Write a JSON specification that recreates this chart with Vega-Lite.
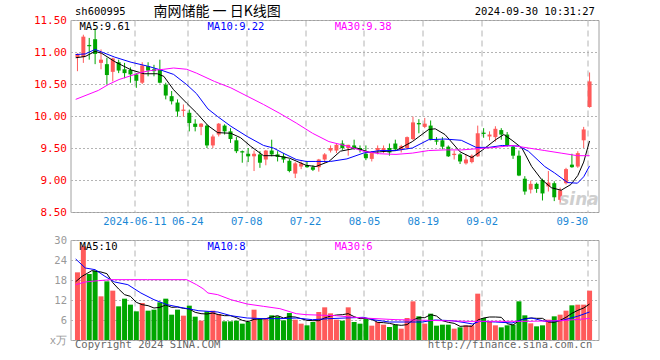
{
  "$schema": "https://vega.github.io/schema/vega-lite/v6.json",
  "autosize": {"type": "none"},
  "padding": {"left": 70.5, "top": 20, "right": 61.5, "bottom": 340},
  "background": "white",
  "bounds": "flush",
  "spacing": 28,
  "resolve": {"scale": {"x": "independent", "y": "independent"}},
  "config": {
    "view": {"stroke": "#a0a0a0", "strokeWidth": 1},
    "axis": {"gridColor": "#b4b4b4", "gridWidth": 1, "domain": false, "ticks": false, "labelFont": "DejaVu Sans Mono", "labelFontSize": 10.5, "labelOverlap": false}
  },
  "datasets": {
    "one": [{}],
    "k": [
      {"i":0,"o":10.92,"h":10.98,"l":10.70,"c":10.97,"v":20.3},
      {"i":1,"o":10.92,"h":11.27,"l":10.83,"c":11.24,"v":28.1},
      {"i":2,"o":11.11,"h":11.22,"l":10.88,"c":11.09,"v":19.8},
      {"i":3,"o":11.20,"h":11.37,"l":10.81,"c":10.97,"v":20.8},
      {"i":4,"o":10.83,"h":11.04,"l":10.73,"c":10.88,"v":13.1},
      {"i":5,"o":10.81,"h":10.91,"l":10.49,"c":10.64,"v":17.6},
      {"i":6,"o":10.69,"h":10.91,"l":10.54,"c":10.90,"v":14.8},
      {"i":7,"o":10.84,"h":10.88,"l":10.67,"c":10.71,"v":10.1},
      {"i":8,"o":10.73,"h":10.83,"l":10.59,"c":10.67,"v":12.4},
      {"i":9,"o":10.72,"h":10.76,"l":10.52,"c":10.65,"v":10.6},
      {"i":10,"o":10.65,"h":10.67,"l":10.44,"c":10.55,"v":8.6},
      {"i":11,"o":10.52,"h":10.84,"l":10.50,"c":10.79,"v":11.1},
      {"i":12,"o":10.78,"h":10.84,"l":10.62,"c":10.71,"v":8.8},
      {"i":13,"o":10.73,"h":10.80,"l":10.62,"c":10.70,"v":9.1},
      {"i":14,"o":10.72,"h":10.88,"l":10.51,"c":10.52,"v":11.3},
      {"i":15,"o":10.49,"h":10.52,"l":10.26,"c":10.32,"v":12.4},
      {"i":16,"o":10.31,"h":10.39,"l":10.18,"c":10.23,"v":7.6},
      {"i":17,"o":10.21,"h":10.26,"l":9.99,"c":10.07,"v":9.1},
      {"i":18,"o":10.08,"h":10.18,"l":9.99,"c":10.10,"v":7.3},
      {"i":19,"o":10.05,"h":10.10,"l":9.76,"c":9.89,"v":10.3},
      {"i":20,"o":9.88,"h":9.95,"l":9.76,"c":9.83,"v":7.0},
      {"i":21,"o":9.83,"h":9.89,"l":9.70,"c":9.88,"v":5.8},
      {"i":22,"o":9.85,"h":9.87,"l":9.50,"c":9.54,"v":8.6},
      {"i":23,"o":9.54,"h":9.71,"l":9.50,"c":9.68,"v":8.8},
      {"i":24,"o":9.71,"h":9.89,"l":9.68,"c":9.88,"v":7.8},
      {"i":25,"o":9.85,"h":9.87,"l":9.71,"c":9.76,"v":5.6},
      {"i":26,"o":9.76,"h":9.81,"l":9.58,"c":9.64,"v":5.6},
      {"i":27,"o":9.62,"h":9.67,"l":9.42,"c":9.45,"v":5.8},
      {"i":28,"o":9.45,"h":9.46,"l":9.27,"c":9.43,"v":4.9},
      {"i":29,"o":9.41,"h":9.50,"l":9.28,"c":9.37,"v":5.4},
      {"i":30,"o":9.37,"h":9.46,"l":9.14,"c":9.41,"v":9.1},
      {"i":31,"o":9.40,"h":9.45,"l":9.19,"c":9.27,"v":6.4},
      {"i":32,"o":9.32,"h":9.47,"l":9.23,"c":9.46,"v":6.4},
      {"i":33,"o":9.46,"h":9.63,"l":9.37,"c":9.40,"v":7.4},
      {"i":34,"o":9.40,"h":9.45,"l":9.29,"c":9.36,"v":7.1},
      {"i":35,"o":9.37,"h":9.42,"l":9.27,"c":9.32,"v":5.9},
      {"i":36,"o":9.30,"h":9.33,"l":9.12,"c":9.14,"v":8.1},
      {"i":37,"o":9.10,"h":9.28,"l":9.03,"c":9.26,"v":6.1},
      {"i":38,"o":9.21,"h":9.29,"l":9.17,"c":9.26,"v":4.9},
      {"i":39,"o":9.23,"h":9.29,"l":9.19,"c":9.20,"v":4.4},
      {"i":40,"o":9.20,"h":9.23,"l":9.14,"c":9.16,"v":5.4},
      {"i":41,"o":9.20,"h":9.33,"l":9.13,"c":9.32,"v":8.4},
      {"i":42,"o":9.32,"h":9.42,"l":9.27,"c":9.40,"v":9.8},
      {"i":43,"o":9.46,"h":9.54,"l":9.43,"c":9.50,"v":8.0},
      {"i":44,"o":9.46,"h":9.57,"l":9.42,"c":9.55,"v":6.1},
      {"i":45,"o":9.57,"h":9.62,"l":9.47,"c":9.50,"v":5.8},
      {"i":46,"o":9.50,"h":9.55,"l":9.38,"c":9.55,"v":9.8},
      {"i":47,"o":9.54,"h":9.63,"l":9.47,"c":9.50,"v":5.4},
      {"i":48,"o":9.50,"h":9.54,"l":9.43,"c":9.47,"v":4.9},
      {"i":49,"o":9.41,"h":9.54,"l":9.31,"c":9.34,"v":6.6},
      {"i":50,"o":9.33,"h":9.45,"l":9.29,"c":9.42,"v":4.3},
      {"i":51,"o":9.46,"h":9.54,"l":9.40,"c":9.50,"v":5.4},
      {"i":52,"o":9.46,"h":9.54,"l":9.42,"c":9.50,"v":4.6},
      {"i":53,"o":9.50,"h":9.57,"l":9.38,"c":9.43,"v":3.9},
      {"i":54,"o":9.57,"h":9.63,"l":9.46,"c":9.48,"v":4.6},
      {"i":55,"o":9.47,"h":9.55,"l":9.43,"c":9.53,"v":3.4},
      {"i":56,"o":9.50,"h":9.68,"l":9.48,"c":9.67,"v":6.6},
      {"i":57,"o":9.64,"h":9.99,"l":9.62,"c":9.90,"v":11.6},
      {"i":58,"o":9.89,"h":9.95,"l":9.73,"c":9.87,"v":7.1},
      {"i":59,"o":9.83,"h":9.97,"l":9.81,"c":9.88,"v":4.9},
      {"i":60,"o":9.85,"h":9.93,"l":9.62,"c":9.64,"v":7.9},
      {"i":61,"o":9.62,"h":9.67,"l":9.55,"c":9.60,"v":4.3},
      {"i":62,"o":9.62,"h":9.67,"l":9.48,"c":9.52,"v":4.6},
      {"i":63,"o":9.52,"h":9.54,"l":9.36,"c":9.37,"v":4.6},
      {"i":64,"o":9.39,"h":9.46,"l":9.32,"c":9.41,"v":3.4},
      {"i":65,"o":9.40,"h":9.42,"l":9.25,"c":9.29,"v":3.8},
      {"i":66,"o":9.26,"h":9.40,"l":9.24,"c":9.32,"v":4.4},
      {"i":67,"o":9.28,"h":9.40,"l":9.26,"c":9.38,"v":4.4},
      {"i":68,"o":9.37,"h":9.85,"l":9.36,"c":9.73,"v":13.9},
      {"i":69,"o":9.74,"h":9.81,"l":9.66,"c":9.72,"v":6.6},
      {"i":70,"o":9.68,"h":9.76,"l":9.62,"c":9.71,"v":5.4},
      {"i":71,"o":9.67,"h":9.84,"l":9.60,"c":9.80,"v":4.4},
      {"i":72,"o":9.78,"h":9.81,"l":9.63,"c":9.71,"v":3.8},
      {"i":73,"o":9.71,"h":9.75,"l":9.52,"c":9.54,"v":4.4},
      {"i":74,"o":9.52,"h":9.53,"l":9.33,"c":9.38,"v":4.6},
      {"i":75,"o":9.38,"h":9.46,"l":9.06,"c":9.07,"v":11.6},
      {"i":76,"o":9.02,"h":9.06,"l":8.77,"c":8.82,"v":7.4},
      {"i":77,"o":8.85,"h":8.99,"l":8.79,"c":8.94,"v":5.0},
      {"i":78,"o":8.94,"h":8.96,"l":8.80,"c":8.86,"v":4.1},
      {"i":79,"o":9.00,"h":9.02,"l":8.68,"c":8.79,"v":4.4},
      {"i":80,"o":8.90,"h":9.14,"l":8.82,"c":8.96,"v":6.1},
      {"i":81,"o":8.95,"h":8.98,"l":8.67,"c":8.73,"v":7.1},
      {"i":82,"o":8.69,"h":8.88,"l":8.63,"c":8.84,"v":7.6},
      {"i":83,"o":8.95,"h":9.19,"l":8.93,"c":9.17,"v":8.8},
      {"i":84,"o":9.24,"h":9.41,"l":9.19,"c":9.20,"v":10.4},
      {"i":85,"o":9.21,"h":9.45,"l":9.19,"c":9.42,"v":10.6},
      {"i":86,"o":9.62,"h":9.83,"l":9.50,"c":9.79,"v":10.6},
      {"i":87,"o":10.14,"h":10.68,"l":10.13,"c":10.54,"v":14.8}
    ],
    "pma": [
      {"s":"MA5","i":-0.3,"v":10.91},{"s":"MA5","i":1.33,"v":10.93},{"s":"MA5","i":3,"v":11.01},{"s":"MA5","i":4.11,"v":10.98},{"s":"MA5","i":6.33,"v":10.85},{"s":"MA5","i":9.11,"v":10.72},{"s":"MA5","i":11.33,"v":10.66},{"s":"MA5","i":13.56,"v":10.66},{"s":"MA5","i":14.67,"v":10.62},{"s":"MA5","i":16.33,"v":10.41},{"s":"MA5","i":18.56,"v":10.20},{"s":"MA5","i":20.22,"v":10.05},{"s":"MA5","i":22.17,"v":9.85},{"s":"MA5","i":23.83,"v":9.74},{"s":"MA5","i":26.06,"v":9.73},{"s":"MA5","i":27.72,"v":9.66},{"s":"MA5","i":29.39,"v":9.53},{"s":"MA5","i":31.61,"v":9.38},{"s":"MA5","i":33.83,"v":9.38},{"s":"MA5","i":36.06,"v":9.34},{"s":"MA5","i":38.83,"v":9.23},{"s":"MA5","i":40.5,"v":9.21},{"s":"MA5","i":42.72,"v":9.29},{"s":"MA5","i":44.67,"v":9.45},{"s":"MA5","i":47.44,"v":9.50},{"s":"MA5","i":49.67,"v":9.43},{"s":"MA5","i":51.33,"v":9.44},{"s":"MA5","i":54.11,"v":9.46},{"s":"MA5","i":56.89,"v":9.60},{"s":"MA5","i":59.67,"v":9.79},{"s":"MA5","i":60.78,"v":9.80},{"s":"MA5","i":62.44,"v":9.71},{"s":"MA5","i":65,"v":9.44},{"s":"MA5","i":67,"v":9.35},{"s":"MA5","i":68.83,"v":9.47},{"s":"MA5","i":71.06,"v":9.63},{"s":"MA5","i":72.44,"v":9.71},{"s":"MA5","i":73.83,"v":9.62},{"s":"MA5","i":75.5,"v":9.50},{"s":"MA5","i":77.17,"v":9.21},{"s":"MA5","i":78.83,"v":9.01},{"s":"MA5","i":80.5,"v":8.88},{"s":"MA5","i":82.17,"v":8.84},{"s":"MA5","i":83.83,"v":8.93},{"s":"MA5","i":85,"v":9.07},{"s":"MA5","i":86,"v":9.28},{"s":"MA5","i":87,"v":9.61},
      {"s":"MA10","i":-0.3,"v":10.96},{"s":"MA10","i":1.33,"v":10.97},{"s":"MA10","i":3,"v":11.04},{"s":"MA10","i":4.11,"v":11.00},{"s":"MA10","i":6.33,"v":10.92},{"s":"MA10","i":9.11,"v":10.84},{"s":"MA10","i":11.89,"v":10.78},{"s":"MA10","i":14.11,"v":10.72},{"s":"MA10","i":16.33,"v":10.65},{"s":"MA10","i":18.56,"v":10.49},{"s":"MA10","i":20.22,"v":10.35},{"s":"MA10","i":22.17,"v":10.11},{"s":"MA10","i":23.83,"v":9.99},{"s":"MA10","i":26.06,"v":9.84},{"s":"MA10","i":28.83,"v":9.68},{"s":"MA10","i":31.61,"v":9.54},{"s":"MA10","i":33.28,"v":9.50},{"s":"MA10","i":34.94,"v":9.42},{"s":"MA10","i":37.17,"v":9.32},{"s":"MA10","i":38.83,"v":9.29},{"s":"MA10","i":40.5,"v":9.29},{"s":"MA10","i":43,"v":9.29},{"s":"MA10","i":45.78,"v":9.33},{"s":"MA10","i":48.56,"v":9.42},{"s":"MA10","i":51.33,"v":9.46},{"s":"MA10","i":54.11,"v":9.46},{"s":"MA10","i":56.89,"v":9.50},{"s":"MA10","i":59.67,"v":9.63},{"s":"MA10","i":62.44,"v":9.64},{"s":"MA10","i":65.22,"v":9.62},{"s":"MA10","i":67.72,"v":9.51},{"s":"MA10","i":69.94,"v":9.51},{"s":"MA10","i":72.17,"v":9.54},{"s":"MA10","i":74.94,"v":9.53},{"s":"MA10","i":76.61,"v":9.45},{"s":"MA10","i":79.39,"v":9.21},{"s":"MA10","i":81.06,"v":9.11},{"s":"MA10","i":83.28,"v":8.96},{"s":"MA10","i":84.94,"v":8.95},{"s":"MA10","i":86,"v":9.05},{"s":"MA10","i":87,"v":9.22},
      {"s":"MA30","i":-0.3,"v":10.26},{"s":"MA30","i":3.56,"v":10.40},{"s":"MA30","i":5.22,"v":10.49},{"s":"MA30","i":7.06,"v":10.57},{"s":"MA30","i":9.11,"v":10.63},{"s":"MA30","i":10.78,"v":10.68},{"s":"MA30","i":12.44,"v":10.71},{"s":"MA30","i":14.67,"v":10.73},{"s":"MA30","i":16.33,"v":10.75},{"s":"MA30","i":18.56,"v":10.73},{"s":"MA30","i":20.22,"v":10.67},{"s":"MA30","i":23.28,"v":10.54},{"s":"MA30","i":26.06,"v":10.44},{"s":"MA30","i":28.83,"v":10.31},{"s":"MA30","i":31.61,"v":10.18},{"s":"MA30","i":34.39,"v":10.04},{"s":"MA30","i":37.17,"v":9.89},{"s":"MA30","i":39.94,"v":9.73},{"s":"MA30","i":42.72,"v":9.60},{"s":"MA30","i":45.78,"v":9.53},{"s":"MA30","i":48.56,"v":9.45},{"s":"MA30","i":51.33,"v":9.41},{"s":"MA30","i":54.11,"v":9.40},{"s":"MA30","i":56.89,"v":9.42},{"s":"MA30","i":59.67,"v":9.46},{"s":"MA30","i":62.44,"v":9.47},{"s":"MA30","i":65.22,"v":9.47},{"s":"MA30","i":71.06,"v":9.51},{"s":"MA30","i":73.83,"v":9.54},{"s":"MA30","i":76.61,"v":9.50},{"s":"MA30","i":79.39,"v":9.46},{"s":"MA30","i":82.17,"v":9.42},{"s":"MA30","i":84.94,"v":9.38},{"s":"MA30","i":87,"v":9.38}
    ],
    "vma": [
      {"s":"MA5","i":-0.3,"v":17.5},{"s":"MA5","i":0.78,"v":19.1},{"s":"MA5","i":2.44,"v":20.8},{"s":"MA5","i":4,"v":20.4},{"s":"MA5","i":5,"v":19.9},{"s":"MA5","i":6,"v":17.2},{"s":"MA5","i":7,"v":15.3},{"s":"MA5","i":8,"v":13.6},{"s":"MA5","i":9,"v":13.1},{"s":"MA5","i":10,"v":11.3},{"s":"MA5","i":11,"v":10.6},{"s":"MA5","i":12,"v":10.3},{"s":"MA5","i":13,"v":9.6},{"s":"MA5","i":14,"v":9.8},{"s":"MA5","i":15,"v":10.5},{"s":"MA5","i":16,"v":9.8},{"s":"MA5","i":17,"v":9.9},{"s":"MA5","i":18,"v":9.5},{"s":"MA5","i":19,"v":9.3},{"s":"MA5","i":20,"v":8.3},{"s":"MA5","i":21,"v":7.9},{"s":"MA5","i":22,"v":7.8},{"s":"MA5","i":23,"v":8.1},{"s":"MA5","i":24,"v":7.6},{"s":"MA5","i":25,"v":7.3},{"s":"MA5","i":26,"v":7.3},{"s":"MA5","i":27,"v":6.7},{"s":"MA5","i":28,"v":5.9},{"s":"MA5","i":29,"v":5.5},{"s":"MA5","i":30,"v":6.2},{"s":"MA5","i":31,"v":6.3},{"s":"MA5","i":32,"v":6.4},{"s":"MA5","i":33,"v":6.9},{"s":"MA5","i":34,"v":7.3},{"s":"MA5","i":35,"v":6.6},{"s":"MA5","i":36,"v":7.0},{"s":"MA5","i":37,"v":6.9},{"s":"MA5","i":38,"v":6.4},{"s":"MA5","i":39,"v":5.9},{"s":"MA5","i":40,"v":5.8},{"s":"MA5","i":41,"v":5.8},{"s":"MA5","i":42,"v":6.6},{"s":"MA5","i":43,"v":7.2},{"s":"MA5","i":44,"v":7.5},{"s":"MA5","i":45,"v":7.6},{"s":"MA5","i":46,"v":7.9},{"s":"MA5","i":47,"v":7.0},{"s":"MA5","i":48,"v":6.4},{"s":"MA5","i":49,"v":6.5},{"s":"MA5","i":50,"v":6.2},{"s":"MA5","i":51,"v":5.3},{"s":"MA5","i":52,"v":5.2},{"s":"MA5","i":53,"v":5.0},{"s":"MA5","i":54,"v":4.6},{"s":"MA5","i":55,"v":4.4},{"s":"MA5","i":56,"v":4.6},{"s":"MA5","i":57,"v":6.0},{"s":"MA5","i":58,"v":6.7},{"s":"MA5","i":59,"v":6.7},{"s":"MA5","i":60,"v":7.6},{"s":"MA5","i":61,"v":7.2},{"s":"MA5","i":62,"v":5.8},{"s":"MA5","i":63,"v":5.3},{"s":"MA5","i":64,"v":5.0},{"s":"MA5","i":65,"v":4.1},{"s":"MA5","i":66,"v":4.2},{"s":"MA5","i":67,"v":4.1},{"s":"MA5","i":68,"v":6.0},{"s":"MA5","i":69,"v":6.6},{"s":"MA5","i":70,"v":6.9},{"s":"MA5","i":71,"v":6.9},{"s":"MA5","i":72,"v":6.8},{"s":"MA5","i":73,"v":4.9},{"s":"MA5","i":74,"v":4.5},{"s":"MA5","i":75,"v":5.8},{"s":"MA5","i":76,"v":6.4},{"s":"MA5","i":77,"v":6.6},{"s":"MA5","i":78,"v":6.5},{"s":"MA5","i":79,"v":6.5},{"s":"MA5","i":80,"v":5.4},{"s":"MA5","i":81,"v":5.3},{"s":"MA5","i":82,"v":5.9},{"s":"MA5","i":83,"v":6.8},{"s":"MA5","i":84,"v":8.0},{"s":"MA5","i":85,"v":8.9},{"s":"MA5","i":86,"v":9.6},{"s":"MA5","i":87,"v":10.8},
      {"s":"MA10","i":-0.3,"v":24.3},{"s":"MA10","i":1.33,"v":21.6},{"s":"MA10","i":3,"v":21.1},{"s":"MA10","i":4.67,"v":19.1},{"s":"MA10","i":6.33,"v":17.4},{"s":"MA10","i":8.56,"v":16.6},{"s":"MA10","i":10.78,"v":14.1},{"s":"MA10","i":13,"v":12.1},{"s":"MA10","i":15.22,"v":10.6},{"s":"MA10","i":17.44,"v":9.8},{"s":"MA10","i":19.67,"v":9.1},{"s":"MA10","i":20.5,"v":8.8},{"s":"MA10","i":23.83,"v":8.4},{"s":"MA10","i":26.06,"v":7.3},{"s":"MA10","i":28.83,"v":6.6},{"s":"MA10","i":31.61,"v":6.4},{"s":"MA10","i":34.39,"v":6.4},{"s":"MA10","i":37.17,"v":6.6},{"s":"MA10","i":39.94,"v":6.1},{"s":"MA10","i":42.72,"v":6.4},{"s":"MA10","i":45.5,"v":6.6},{"s":"MA10","i":48.56,"v":6.8},{"s":"MA10","i":50.22,"v":6.1},{"s":"MA10","i":53,"v":5.4},{"s":"MA10","i":55.78,"v":5.4},{"s":"MA10","i":58.56,"v":5.4},{"s":"MA10","i":60.78,"v":6.0},{"s":"MA10","i":63.56,"v":5.8},{"s":"MA10","i":65.5,"v":5.3},{"s":"MA10","i":67.17,"v":4.8},{"s":"MA10","i":68.28,"v":5.6},{"s":"MA10","i":71.06,"v":5.4},{"s":"MA10","i":73.83,"v":5.1},{"s":"MA10","i":75.5,"v":6.1},{"s":"MA10","i":77.17,"v":6.6},{"s":"MA10","i":79.39,"v":5.6},{"s":"MA10","i":82.17,"v":5.8},{"s":"MA10","i":84.94,"v":7.1},{"s":"MA10","i":87,"v":8.4},
      {"s":"MA30","i":-0.3,"v":16.6},{"s":"MA30","i":1.33,"v":17.4},{"s":"MA30","i":3.56,"v":17.8},{"s":"MA30","i":5.78,"v":18.1},{"s":"MA30","i":11.89,"v":18.1},{"s":"MA30","i":18.56,"v":18.1},{"s":"MA30","i":20.22,"v":16.6},{"s":"MA30","i":21.33,"v":15.4},{"s":"MA30","i":22.17,"v":14.1},{"s":"MA30","i":23.83,"v":13.6},{"s":"MA30","i":26.06,"v":12.1},{"s":"MA30","i":28.83,"v":10.8},{"s":"MA30","i":31.61,"v":10.1},{"s":"MA30","i":34.39,"v":9.4},{"s":"MA30","i":37.17,"v":7.9},{"s":"MA30","i":38.83,"v":7.6},{"s":"MA30","i":43.83,"v":7.3},{"s":"MA30","i":48.56,"v":6.6},{"s":"MA30","i":54.11,"v":6.1},{"s":"MA30","i":59.67,"v":5.9},{"s":"MA30","i":66.33,"v":5.6},{"s":"MA30","i":71,"v":5.6},{"s":"MA30","i":76.6,"v":5.6},{"s":"MA30","i":82.17,"v":5.8},{"s":"MA30","i":86.6,"v":6.4},{"s":"MA30","i":87,"v":6.5}
    ]
  },
  "vconcat": [
    {
      "width": 528,
      "height": 192,
      "layer": [
        {
          "data": {"name": "k"},
          "mark": {"type": "rule", "strokeWidth": 1},
          "encoding": {
            "x": {"field": "i", "type": "quantitative",
              "scale": {"domain": [-0.333, 87.667], "nice": false, "zero": false},
              "axis": {"values": [9.667, 18.667, 28.667, 38.667, 48.667, 58.667, 68.667, 86.667], "tickCount": 20,
                "labelExpr": "datum.value < 10 ? '2024-06-11' : datum.value < 19 ? '06-24' : datum.value < 29 ? '07-08' : datum.value < 39 ? '07-22' : datum.value < 49 ? '08-05' : datum.value < 59 ? '08-19' : datum.value < 69 ? '09-02' : '09-30'",
                "grid": true, "gridDash": [6, 4], "labelColor": "#1a88d6", "labelPadding": 4, "labelFlush": 20, "labelOverlap": false, "title": null}},
            "y": {"field": "l", "type": "quantitative",
              "scale": {"domain": [8.5, 11.5], "nice": false, "zero": false},
              "axis": {"values": [8.5, 9, 9.5, 10, 10.5, 11, 11.5], "tickCount": 20, "format": ".2f", "grid": true, "gridDash": [2, 2], "labelColor": "#ff0000", "labelPadding": 4, "labelOverlap": false, "labelFontSize": 11, "title": null}},
            "y2": {"field": "h"},
            "color": {"condition": {"test": "datum.c >= datum.o", "value": "#ff5a5a"}, "value": "#00a600"}
          }
        },
        {
          "data": {"name": "k"},
          "mark": {"type": "bar", "width": 4, "orient": "vertical"},
          "encoding": {
            "x": {"field": "i", "type": "quantitative"},
            "y": {"field": "o", "type": "quantitative"},
            "y2": {"field": "c"},
            "color": {"condition": {"test": "datum.c >= datum.o", "value": "#ff5a5a"}, "value": "#00a600"}
          }
        },
        {
          "data": {"name": "pma"},
          "mark": {"type": "line", "strokeWidth": 1, "clip": true},
          "encoding": {
            "x": {"field": "i", "type": "quantitative"},
            "y": {"field": "v", "type": "quantitative"},
            "color": {"field": "s", "type": "nominal", "scale": {"domain": ["MA5", "MA10", "MA30"], "range": ["#000000", "#0000ff", "#ff00ff"]}, "legend": null}
          }
        },
        {
          "data": {"name": "one"},
          "mark": {"type": "text", "align": "left", "baseline": "middle", "font": "DejaVu Sans Mono", "fontSize": 10.5, "color": "#000000"},
          "encoding": {"x": {"datum": 0.35, "type": "quantitative"}, "y": {"datum": 11.395, "type": "quantitative"}, "text": {"value": "MA5:9.61"}}
        },
        {
          "data": {"name": "one"},
          "mark": {"type": "text", "align": "left", "baseline": "middle", "font": "DejaVu Sans Mono", "fontSize": 10.5, "color": "#0000ff"},
          "encoding": {"x": {"datum": 22.1, "type": "quantitative"}, "y": {"datum": 11.395, "type": "quantitative"}, "text": {"value": "MA10:9.22"}}
        },
        {
          "data": {"name": "one"},
          "mark": {"type": "text", "align": "left", "baseline": "middle", "font": "DejaVu Sans Mono", "fontSize": 10.5, "color": "#ff00ff"},
          "encoding": {"x": {"datum": 43.7, "type": "quantitative"}, "y": {"datum": 11.395, "type": "quantitative"}, "text": {"value": "MA30:9.38"}}
        },
        {
          "data": {"name": "one"},
          "mark": {"type": "text", "align": "left", "baseline": "middle", "font": "DejaVu Sans Mono", "fontSize": 10.5, "color": "#000000"},
          "encoding": {"x": {"datum": -0.42, "type": "quantitative"}, "y": {"datum": 11.625, "type": "quantitative"}, "text": {"value": "sh600995"}}
        },
        {
          "data": {"name": "one"},
          "mark": {"type": "text", "align": "left", "baseline": "middle", "font": "Noto Sans CJK SC", "fontSize": 14, "color": "#000000"},
          "encoding": {"x": {"datum": 12.9, "type": "quantitative"}, "y": {"datum": 11.625, "type": "quantitative"}, "text": {"value": "南网储能 一 日K线图"}}
        },
        {
          "data": {"name": "one"},
          "mark": {"type": "text", "align": "right", "baseline": "middle", "font": "DejaVu Sans Mono", "fontSize": 10.5, "color": "#000000"},
          "encoding": {"x": {"datum": 87.9, "type": "quantitative"}, "y": {"datum": 11.625, "type": "quantitative"}, "text": {"value": "2024-09-30 10:31:27"}}
        },
        {
          "data": {"name": "one"},
          "mark": {"type": "text", "align": "center", "baseline": "middle", "font": "DejaVu Sans", "fontSize": 17, "fontWeight": "bold", "fontStyle": "italic", "color": "#cfcfcf"},
          "encoding": {"x": {"datum": 85.2, "type": "quantitative"}, "y": {"datum": 8.68, "type": "quantitative"}, "text": {"value": "sina"}}
        }
      ]
    },
    {
      "width": 528,
      "height": 100,
      "layer": [
        {
          "data": {"name": "k"},
          "mark": {"type": "bar", "width": 5, "orient": "vertical"},
          "encoding": {
            "x": {"field": "i", "type": "quantitative",
              "scale": {"domain": [-0.333, 87.667], "nice": false, "zero": false},
              "axis": {"values": [9.667, 18.667, 28.667, 38.667, 48.667, 58.667, 68.667, 86.667], "tickCount": 20, "labels": false, "grid": true, "gridDash": [6, 4], "title": null}},
            "y": {"field": "v", "type": "quantitative",
              "scale": {"domain": [0, 30], "nice": false},
              "axis": {"values": [0, 6, 12, 18, 24, 30], "tickCount": 20, "labelExpr": "datum.value == 0 ? 'x万' : datum.label", "grid": true, "gridDash": [2, 2], "labelColor": "#999999", "labelPadding": 4, "labelOverlap": false, "title": null}},
            "color": {"condition": {"test": "datum.c >= datum.o", "value": "#ff5a5a"}, "value": "#00a600"}
          }
        },
        {
          "data": {"name": "vma"},
          "mark": {"type": "line", "strokeWidth": 1, "clip": true},
          "encoding": {
            "x": {"field": "i", "type": "quantitative"},
            "y": {"field": "v", "type": "quantitative"},
            "color": {"field": "s", "type": "nominal", "scale": {"domain": ["MA5", "MA10", "MA30"], "range": ["#000000", "#0000ff", "#ff00ff"]}, "legend": null}
          }
        },
        {
          "data": {"name": "one"},
          "mark": {"type": "text", "align": "left", "baseline": "middle", "font": "DejaVu Sans Mono", "fontSize": 10.5, "color": "#000000"},
          "encoding": {"x": {"datum": 0.35, "type": "quantitative"}, "y": {"datum": 28.0, "type": "quantitative"}, "text": {"value": "MA5:10"}}
        },
        {
          "data": {"name": "one"},
          "mark": {"type": "text", "align": "left", "baseline": "middle", "font": "DejaVu Sans Mono", "fontSize": 10.5, "color": "#0000ff"},
          "encoding": {"x": {"datum": 22.1, "type": "quantitative"}, "y": {"datum": 28.0, "type": "quantitative"}, "text": {"value": "MA10:8"}}
        },
        {
          "data": {"name": "one"},
          "mark": {"type": "text", "align": "left", "baseline": "middle", "font": "DejaVu Sans Mono", "fontSize": 10.5, "color": "#ff00ff"},
          "encoding": {"x": {"datum": 43.7, "type": "quantitative"}, "y": {"datum": 28.0, "type": "quantitative"}, "text": {"value": "MA30:6"}}
        },
        {
          "data": {"name": "one"},
          "mark": {"type": "text", "align": "left", "baseline": "middle", "font": "DejaVu Sans Mono", "fontSize": 10.5, "color": "#666666"},
          "encoding": {"x": {"datum": -0.42, "type": "quantitative"}, "y": {"datum": -1.6, "type": "quantitative"}, "text": {"value": "Copyright 2024 SINA.COM"}}
        },
        {
          "data": {"name": "one"},
          "mark": {"type": "text", "align": "right", "baseline": "middle", "font": "DejaVu Sans Mono", "fontSize": 10.5, "color": "#666666"},
          "encoding": {"x": {"datum": 87.45, "type": "quantitative"}, "y": {"datum": -1.6, "type": "quantitative"}, "text": {"value": "http://finance.sina.com.cn"}}
        }
      ]
    }
  ]
}
